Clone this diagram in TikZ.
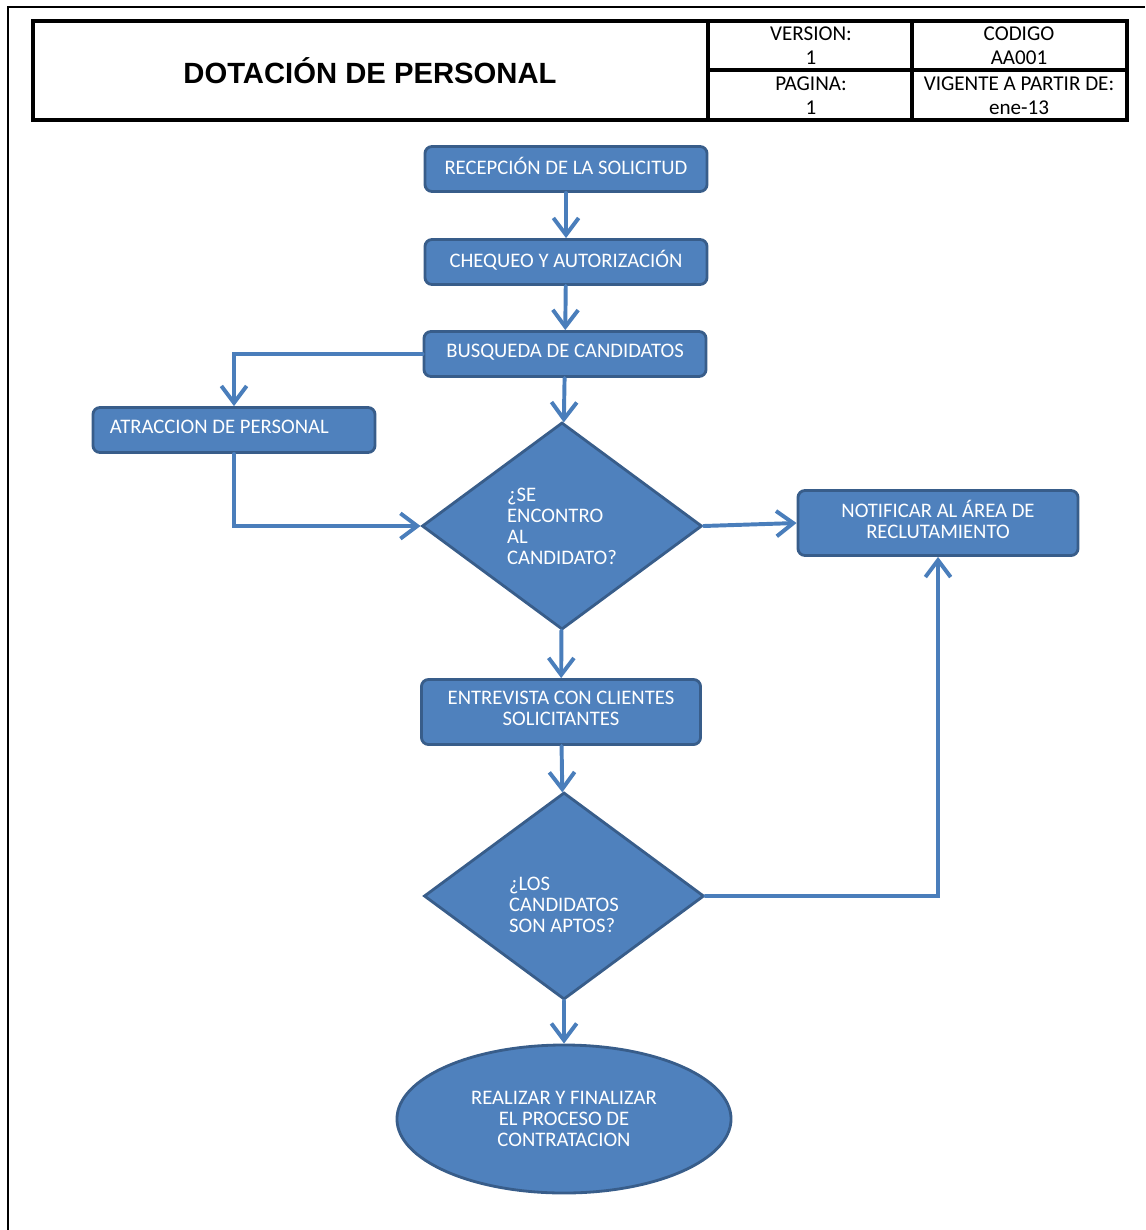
\documentclass[tikz,border=0pt]{standalone}
\usepackage{fontspec}
\setmainfont{Carlito}
\newfontfamily\titlefont{Liberation Sans}
\usetikzlibrary{shapes.geometric,arrows.meta}
\definecolor{boxfill}{HTML}{4F81BD}
\definecolor{boxline}{HTML}{385D8A}
\definecolor{arrowline}{HTML}{4A7EBB}

\begin{document}
\begin{tikzpicture}[x=0.025cm, y=-0.025cm,
    proc/.style={rectangle, rounded corners=5pt, draw=boxline, fill=boxfill, line width=2pt, text=white, minimum width=7.05cm, minimum height=1.125cm, inner sep=2pt, text depth=5pt, align=center, font=\fontsize{14.7}{15}\selectfont},
    dec/.style={diamond, draw=boxline, fill=boxfill, line width=2pt, text=white, minimum width=7cm, minimum height=5.175cm, inner sep=0pt, align=flush left, font=\fontsize{14.7}{15}\selectfont},
    fin/.style={ellipse, draw=boxline, fill=boxfill, line width=2pt, text=white, minimum width=8.35cm, minimum height=3.7cm, align=center, font=\fontsize{14.7}{15}\selectfont},
    flow/.style={draw=arrowline, line width=2.8pt, line cap=round, -{Straight Barb[length=12pt,width=18pt]}},
    cell/.style={inner sep=0pt, font=\fontsize{15}{17}\selectfont}]
  \useasboundingbox (0,0) rectangle (1145,1230);

  % Frame and header
  \draw[line width=1.4pt] (8,1230) -- (8,7) -- (1145,7);
  \draw[line width=2.8pt] (33,21) rectangle (1127,120);
  \draw[line width=2.8pt] (708,21) -- (708,120);
  \draw[line width=2.8pt] (912,21) -- (912,120);
  \draw[line width=2.8pt] (708,70) -- (1127,70);

  \node[font=\titlefont\bfseries\fontsize{20.8}{21}\selectfont] at (370,71) (title) {DOTACIÓN DE PERSONAL};
  \node[cell] at (811,34) (verlbl) {VERSION:};
  \node[cell] at (811,58) (ver) {1};
  \node[cell] at (1019,34) (codlbl) {CODIGO};
  \node[cell] at (1019,58) (cod) {AA001};
  \node[cell] at (811,84) (paglbl) {PAGINA:};
  \node[cell] at (811,108) (pag) {1};
  \node[cell] at (1019,84) (viglbl) {VIGENTE A PARTIR DE:};
  \node[cell] at (1019,108) (vig) {ene-13};

  % Nodes
  \node[proc] at (566,169) (rec) {RECEPCIÓN DE LA SOLICITUD};
  \node[proc] at (566,262) (cheq) {CHEQUEO Y AUTORIZACIÓN};
  \node[proc] at (565,354) (busq) {BUSQUEDA DE CANDIDATOS};
  \node[proc, text width=6.2cm, align=flush left, inner xsep=0.425cm] at (234,430) (atrac) {ATRACCION DE PERSONAL};
  \node[dec] at (562,526) (dec1) {¿SE\\ENCONTRO\\AL\\CANDIDATO?};
  \node[proc, minimum width=7cm, minimum height=1.625cm] at (938,523) (notif) {NOTIFICAR AL ÁREA DE\\RECLUTAMIENTO};
  \node[proc, minimum width=6.975cm, minimum height=1.625cm] at (561,712) (entrev) {ENTREVISTA CON CLIENTES\\SOLICITANTES};
  \node[dec] at (564,896) (dec2) {\mbox{}\\[7pt]¿LOS\\CANDIDATOS\\SON APTOS?};
  \node[fin] at (564,1119) (fin) {REALIZAR Y FINALIZAR\\EL PROCESO DE\\CONTRATACION};

  % Connectors
  \draw[flow] (rec) -- (cheq);
  \draw[flow] (cheq) -- (busq);
  \draw[flow] (busq) -- (dec1);
  \draw[flow] (busq.west) -| (atrac.north);
  \draw[flow] (atrac.south) |- (dec1.west);
  \draw[flow] (dec1.east) -- (notif.west);
  \draw[flow] (dec1) -- (entrev);
  \draw[flow] (entrev) -- (dec2);
  \draw[flow] (dec2.east) -| (notif.south);
  \draw[flow] (dec2) -- (fin);
\end{tikzpicture}
\end{document}
